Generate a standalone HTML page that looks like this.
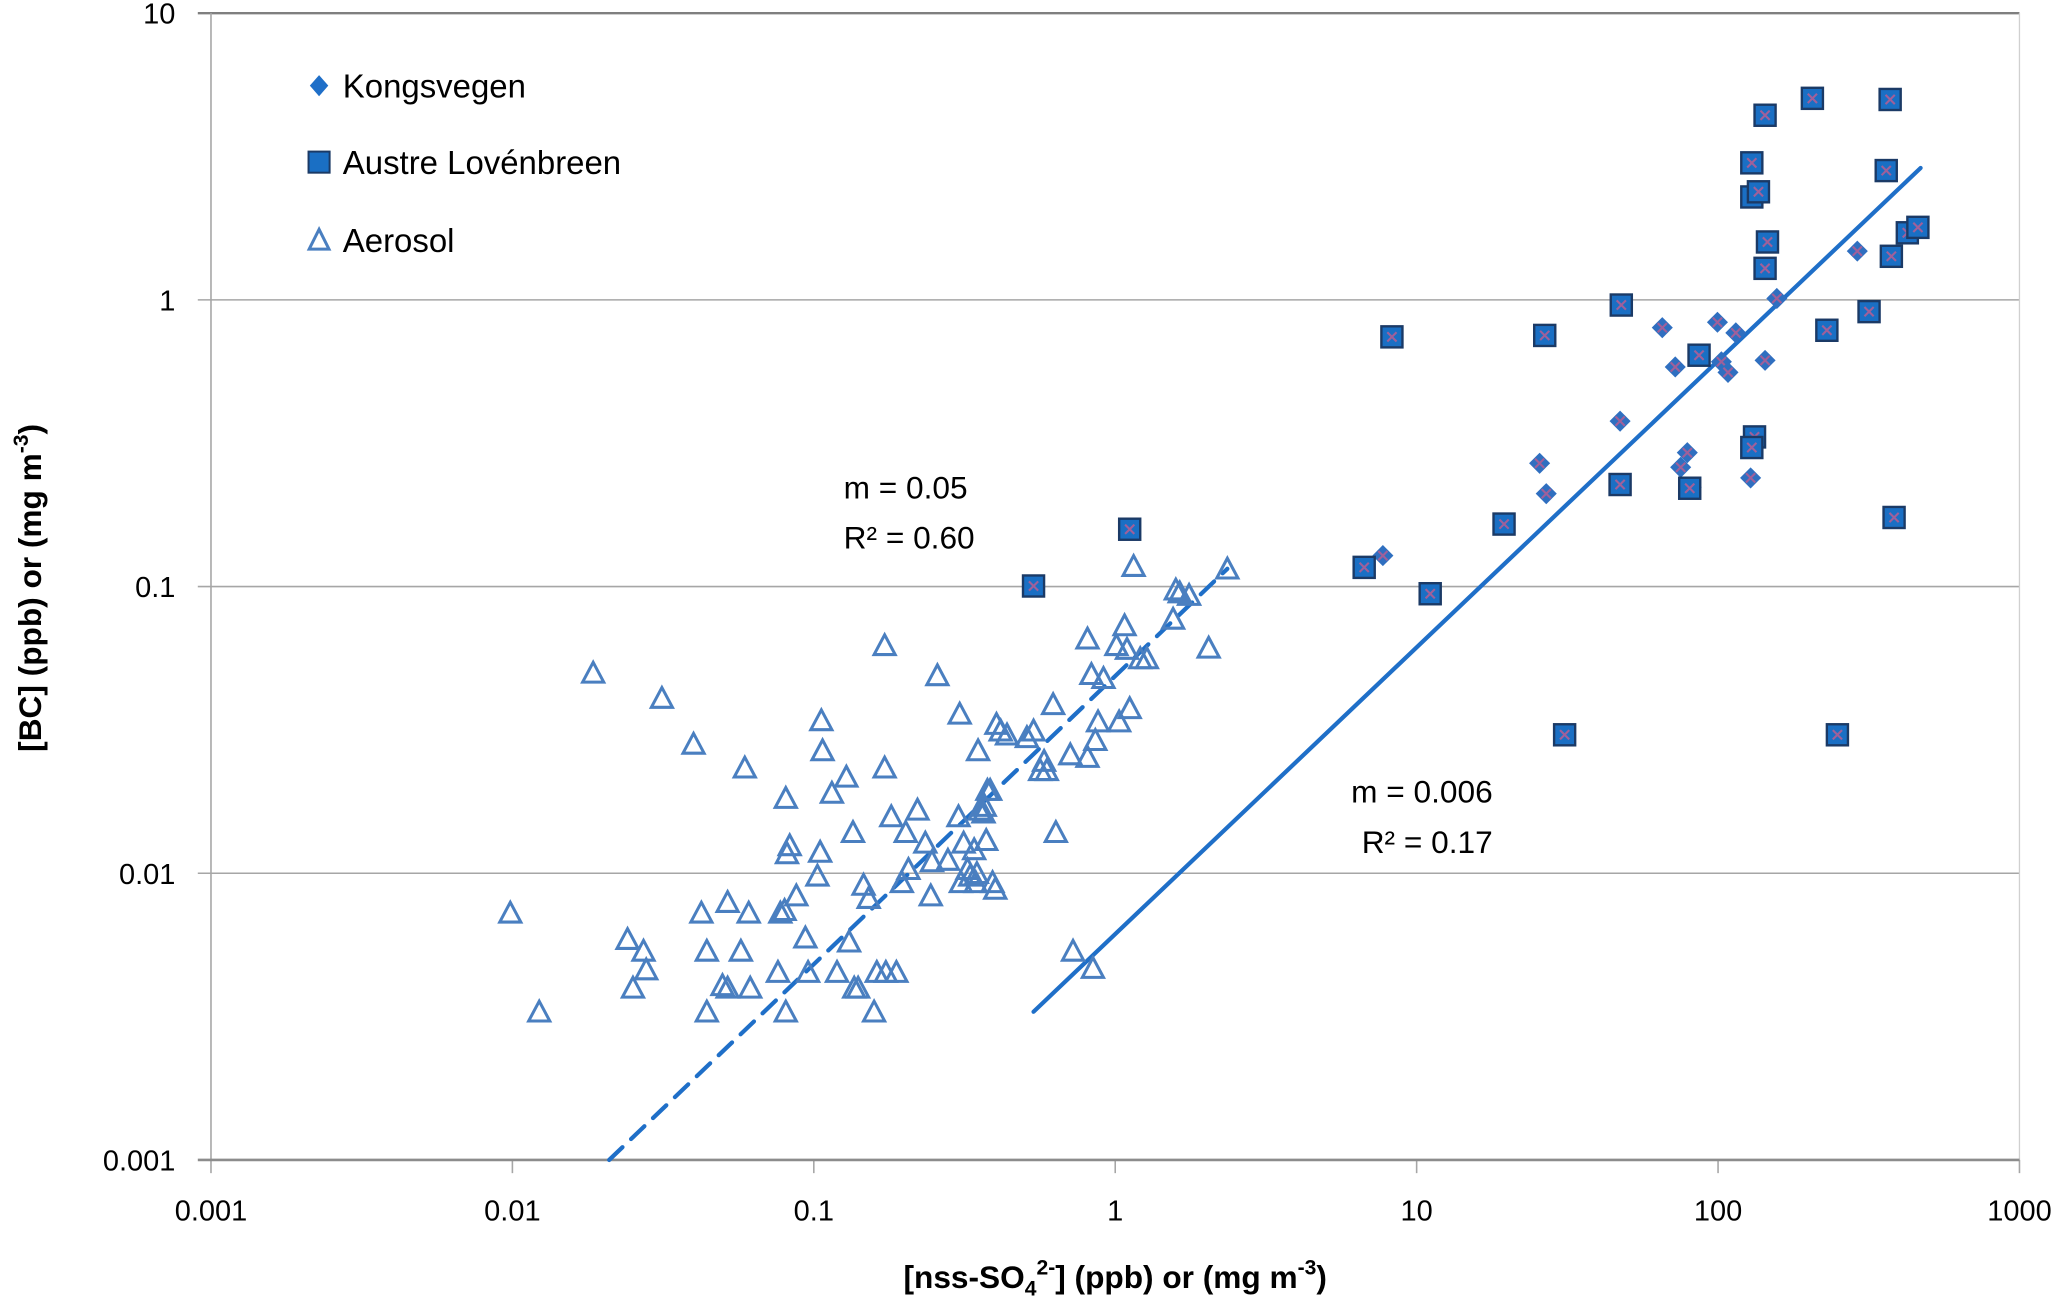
<!DOCTYPE html>
<html><head><meta charset="utf-8"><style>
html,body{margin:0;padding:0;background:#fff}
svg{display:block}
text{font-family:"Liberation Sans",sans-serif;fill:#000}
</style></head><body>
<svg id="chart" width="2067" height="1301" viewBox="0 0 1568 987" xmlns="http://www.w3.org/2000/svg">
<g id="grid"></g>
<g id="axes"></g>
<g id="lines"></g>
<g id="aero"></g>
<g id="kong"></g>
<g id="aust"></g>
<g>
 <path d="M242,57 L249,65 L242,73 L235,65 Z" fill="#1f6fc8"/>
 <text x="260" y="74" font-size="25">Kongsvegen</text>
 <rect x="234" y="115" width="16" height="16" fill="#1a6fc4" stroke="#1b3a66" stroke-width="1.5"/>
 <text x="260" y="132" font-size="25">Austre Lovénbreen</text>
 <path d="M242,174 L249.5,189 L234.5,189 Z" fill="none" stroke="#4a7fc0" stroke-width="2.3"/>
 <text x="260" y="191" font-size="25">Aerosol</text>
</g>
<g>
 <text x="640" y="378" font-size="24">m = 0.05</text>
 <text x="640" y="416" font-size="24">R² = 0.60</text>
 <text x="1025" y="609" font-size="24">m = 0.006</text>
 <text x="1033" y="647" font-size="24">R² = 0.17</text>
</g>
<text x="846" y="977" font-size="24" font-weight="bold" text-anchor="middle">[nss-SO<tspan font-size="16" dy="6">4</tspan><tspan font-size="16" dy="-16">2-</tspan><tspan dy="10">] (ppb) or (mg m</tspan><tspan font-size="16" dy="-10">-3</tspan><tspan dy="10">)</tspan></text>
<text transform="translate(31,446) rotate(-90)" font-size="24" font-weight="bold" text-anchor="middle">[BC] (ppb) or (mg m<tspan font-size="16" dy="-10">-3</tspan><tspan dy="10">)</tspan></text>
</svg>
<script>
// data arrays (log10 of values)
const xTickLabels = ["0.001","0.01","0.1","1","10","100","1000"];
const yTickLabels = ["0.001","0.01","0.1","1","10"];
const aeroLogX = [-2.007,-1.911,-1.732,-1.618,-1.600,-1.565,-1.556,-1.504,-1.399,-1.373,-1.355,-1.355,-1.303,-1.286,-1.286,-1.242,-1.229,-1.216,-1.211,-1.119,-1.111,-1.097,-1.093,-1.093,-1.089,-1.080,-1.058,-1.028,-1.019,-0.988,-0.979,-0.975,-0.971,-0.940,-0.923,-0.892,-0.883,-0.870,-0.866,-0.853,-0.835,-0.818,-0.800,-0.791,-0.765,-0.765,-0.761,-0.743,-0.726,-0.708,-0.695,-0.686,-0.656,-0.630,-0.612,-0.608,-0.590,-0.555,-0.520,-0.516,-0.512,-0.503,-0.490,-0.481,-0.468,-0.463,-0.459,-0.455,-0.450,-0.437,-0.433,-0.428,-0.424,-0.415,-0.407,-0.398,-0.394,-0.380,-0.359,-0.271,-0.249,-0.236,-0.227,-0.206,-0.197,-0.149,-0.140,-0.092,-0.092,-0.079,-0.066,-0.057,-0.039,0.004,0.013,0.031,0.039,0.048,0.061,0.083,0.105,0.192,0.201,0.214,0.245,0.310,0.372,-0.074,-0.293];
const aeroLogY = [-2.138,-2.483,-1.301,-2.230,-2.400,-2.271,-2.336,-1.389,-1.549,-2.138,-2.483,-2.271,-2.391,-2.101,-2.400,-2.271,-1.632,-2.138,-2.400,-2.345,-2.138,-2.129,-1.738,-2.483,-1.931,-1.903,-2.078,-2.225,-2.345,-2.009,-1.926,-1.467,-1.572,-1.720,-2.345,-1.664,-2.239,-1.857,-2.400,-2.400,-2.041,-2.087,-2.483,-2.345,-1.205,-1.632,-2.345,-1.802,-2.345,-2.032,-1.857,-1.986,-1.779,-1.894,-2.078,-1.959,-1.310,-1.954,-1.802,-1.444,-2.032,-1.894,-1.986,-2.009,-1.917,-2.032,-2.000,-1.572,-1.779,-1.789,-1.766,-1.885,-1.710,-1.710,-2.032,-2.055,-1.480,-1.503,-1.517,-1.503,-1.641,-1.609,-1.641,-1.411,-1.857,-1.586,-2.271,-1.182,-1.595,-1.306,-1.536,-1.471,-1.320,-1.205,-1.471,-1.136,-1.218,-1.425,-0.929,-1.251,-1.251,-1.113,-1.011,-1.021,-1.030,-1.214,-0.938,-2.331,-1.526];
const kongLogX = [0.888,1.408,1.430,1.675,1.815,1.858,1.876,1.898,1.911,1.998,2.011,2.033,2.059,2.156,2.195,2.108,2.462];
const kongLogY = [-0.892,-0.570,-0.676,-0.423,-0.097,-0.234,-0.584,-0.533,-0.653,-0.078,-0.216,-0.253,-0.115,-0.211,0.005,-0.621,0.170];
const austLogX = [-0.271,0.048,0.826,0.918,1.045,1.290,1.425,1.491,1.679,1.675,1.906,1.937,2.112,2.112,2.134,2.156,2.164,2.156,2.121,2.112,2.313,2.361,2.396,2.501,2.558,2.571,2.575,2.584,2.628,2.663];
const austLogY = [-0.998,-0.800,-0.933,-0.129,-1.025,-0.782,-0.124,-1.517,-0.018,-0.644,-0.657,-0.193,0.478,0.359,0.377,0.644,0.202,0.110,-0.478,-0.515,0.703,-0.106,-1.517,-0.041,0.451,0.699,0.152,-0.759,0.234,0.253];
const aeroFitLogX = [-1.679,0.372];
const aeroFitLogY = [-3.0,-0.938];
const glacierFitLogX = [-0.271,2.672];
const glacierFitLogY = [-2.483,0.460];

const NS="http://www.w3.org/2000/svg";
const X0=160,X1=1532,Y0=880,Y1=10;
const sx=l=>X0+(l+3)/6*(X1-X0);
const sy=l=>Y0-(l+3)/4*(Y0-Y1);
function mk(tag,attrs,parent){const e=document.createElementNS(NS,tag);for(const k in attrs)e.setAttribute(k,attrs[k]);parent.appendChild(e);return e;}
const grid=document.getElementById('grid'),axes=document.getElementById('axes');
yTickLabels.forEach((lab,i)=>{
  const y=sy(i-3);
  if(i>0){const g=mk('line',{x1:X0-10,x2:X1,y1:y,y2:y,stroke:i==4?'#7f7f7f':'#a6a6a6','stroke-width':i==4?1.8:1.2},grid);
    
    }
  const t=mk('text',{x:133,y:y+8,'font-size':22,'text-anchor':'end'},axes);t.textContent=lab;
  
  
});
xTickLabels.forEach((lab,i)=>{
  const x=sx(i-3);
  const tk=mk('line',{x1:x,x2:x,y1:Y0,y2:Y0+10,stroke:'#a6a6a6','stroke-width':1.2},axes);
  
  
  const t=mk('text',{x:x,y:926,'font-size':22,'text-anchor':'middle'},axes);t.textContent=lab;
  
  
});
const ya=mk('line',{x1:X0,x2:X0,y1:Y1,y2:Y0,stroke:'#a6a6a6','stroke-width':1.2},axes);


const re=mk('line',{x1:X1,x2:X1,y1:Y1,y2:Y0,stroke:'#d0d0d0','stroke-width':1},axes);


const xa=mk('line',{x1:X0-10,x2:X1,y1:Y0,y2:Y0,stroke:'#8c8c8c','stroke-width':2},axes);



const lines=document.getElementById('lines');
const l1=mk('line',{x1:sx(aeroFitLogX[0]),y1:sy(aeroFitLogY[0]),x2:sx(aeroFitLogX[1]),y2:sy(aeroFitLogY[1]),stroke:'#1f6fc8','stroke-width':3.2,'stroke-dasharray':'14 9','stroke-linecap':'round'},lines);


const l2=mk('line',{x1:sx(glacierFitLogX[0]),y1:sy(glacierFitLogY[0]),x2:sx(glacierFitLogX[1]),y2:sy(glacierFitLogY[1]),stroke:'#1f6fc8','stroke-width':3.2,'stroke-linecap':'round'},lines);



const aero=document.getElementById('aero');
aeroLogX.forEach((lx,i)=>{
  const x=sx(lx),y=sy(aeroLogY[i]);
  const p=mk('path',{d:`M${x},${y-8} L${x+8},${y+7} L${x-8},${y+7} Z`,fill:'none',stroke:'#4a7fc0','stroke-width':2.3},aero);
  
  
});
function xmark(x,y,g){mk('path',{d:`M${x-3.5},${y-3.5}L${x+3.5},${y+3.5}M${x+3.5},${y-3.5}L${x-3.5},${y+3.5}`,stroke:'#a0609a','stroke-width':1.6},g);}
const kong=document.getElementById('kong');
kongLogX.forEach((lx,i)=>{
  const x=sx(lx),y=sy(kongLogY[i]);
  const g=mk('g',{},kong);
  
  
  mk('path',{d:`M${x},${y-8} L${x+8},${y} L${x},${y+8} L${x-8},${y} Z`,fill:'#2f6fc0'},g);
  xmark(x,y,g);
});
const aust=document.getElementById('aust');
austLogX.forEach((lx,i)=>{
  const x=sx(lx),y=sy(austLogY[i]);
  const g=mk('g',{},aust);
  
  
  mk('rect',{x:x-8,y:y-8,width:16,height:16,fill:'#1a6fc4',stroke:'#1b3a66','stroke-width':1.8},g);
  xmark(x,y,g);
});
</script>
</body></html>
